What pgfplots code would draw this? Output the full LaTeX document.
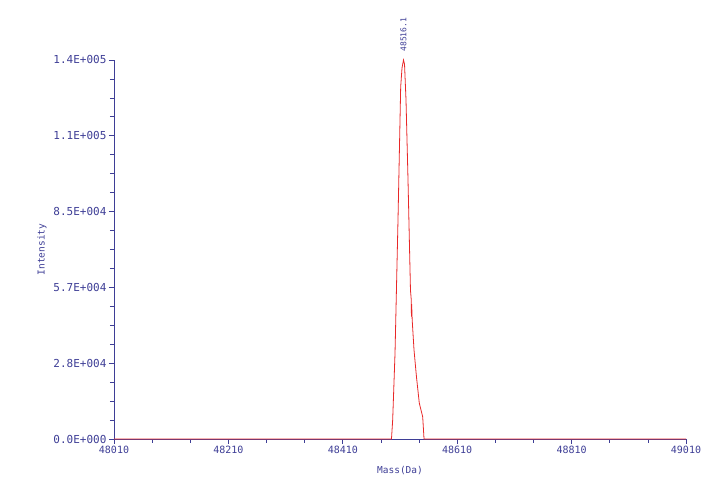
\documentclass[border=0pt]{standalone}
\usepackage{fontspec}
\setmainfont{DejaVu Sans Mono}
\usepackage{pgfplots}
\pgfplotsset{compat=1.18}
\definecolor{axblue}{RGB}{62,62,150}
\definecolor{specred}{RGB}{232,40,40}
\begin{document}
\begin{tikzpicture}[x=1pt,y=1pt]
\useasboundingbox (-114,-58) rectangle (608,439);
\begin{axis}[
  at={(0,0)}, anchor=south west,
  scale only axis, width=572pt, height=379pt,
  xmin=48010, xmax=49010, ymin=0, ymax=141000,
  scaled ticks=false,
  axis x line*=bottom, axis y line*=left,
  axis line style={axblue, line width=0.8pt},
  tick align=outside, tick style={axblue, line width=0.7pt},
  major tick length=5pt, minor tick length=4pt,
  xtick={48010,48210,48410,48610,48810,49010},
  xticklabels={48010,48210,48410,48610,48810,49010},
  minor x tick num=2,
  ytick={0,28200,56400,84600,112800,141000},
  yticklabels={0.0E+000,2.8E+004,5.7E+004,8.5E+004,1.1E+005,1.4E+005},
  minor y tick num=3,
  x tick label style={font=\fontsize{10}{11}\selectfont, text=axblue, yshift=1pt},
  y tick label style={font=\fontsize{11}{12}\selectfont, text=axblue, xshift=1pt},
  xlabel={Mass(Da)}, ylabel={Intensity},
  label style={font=\fontsize{9.5}{11}\selectfont, text=axblue},
  xlabel style={yshift=-5pt},
  ylabel style={yshift=0pt},
  clip=false,
]
\addplot[specred, line width=0.8pt] coordinates {
  (48010,0) (48495.1,0) (48497.2,7070) (48501.3,32000) (48506.5,81500)
  (48511.2,131000) (48513.5,138000) (48516.1,141000) (48517.9,139500)
  (48520.5,126100) (48524.0,96400) (48528.3,55400) (48529.6,52000)
  (48530.0,45500) (48530.4,50200) (48531.3,44300) (48534.5,33100)
  (48538.8,23100) (48543.7,13400) (48549.7,8200) (48552.0,0) (49010,0)
};
\node[rotate=90, anchor=west, text=axblue, font=\fontsize{8}{9}\selectfont]
  at (axis cs:48516.1,141000) [xshift=5pt] {48516.1};
\end{axis}
\end{tikzpicture}
\end{document}
